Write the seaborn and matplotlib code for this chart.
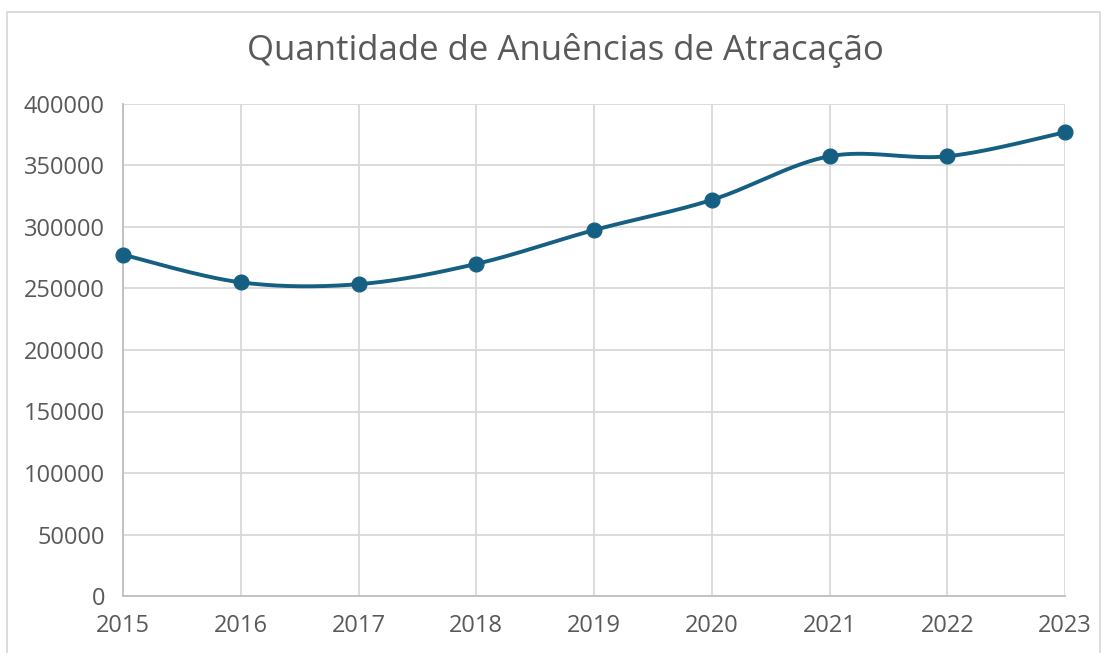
import numpy as np
import pandas as pd
import seaborn as sns
import matplotlib.pyplot as plt
from matplotlib.patches import Rectangle

# values
anos = [2015, 2016, 2017, 2018, 2019, 2020, 2021, 2022, 2023]
anuencias = [277500, 255000, 253500, 270000, 297500, 322000, 357500, 357500, 377000]
y_ticks = [0, 50000, 100000, 150000, 200000, 250000, 300000, 350000, 400000]
titulo = "Quantidade de Anuências de Atracação"

cor = "#156082"
cinza_txt = "#595959"
cinza_grade = "#d9d9d9"


def suavizar(x, y, n=40):
    # Excel-like smoothing: bezier segments with catmull-rom control points
    x = np.asarray(x, float)
    y = np.asarray(y, float)
    px = np.concatenate([[x[0]], x, [x[-1]]])
    py = np.concatenate([[y[0]], y, [y[-1]]])
    xs, ys = [], []
    t = np.linspace(0, 1, n)
    for i in range(1, len(px) - 2):
        p0 = np.array([px[i], py[i]])
        p3 = np.array([px[i + 1], py[i + 1]])
        p1 = p0 + (np.array([px[i + 1], py[i + 1]]) - np.array([px[i - 1], py[i - 1]])) / 6
        p2 = p3 - (np.array([px[i + 2], py[i + 2]]) - np.array([px[i], py[i]])) / 6
        b = ((1 - t) ** 3)[:, None] * p0 + (3 * (1 - t) ** 2 * t)[:, None] * p1 \
            + (3 * (1 - t) * t ** 2)[:, None] * p2 + (t ** 3)[:, None] * p3
        xs.extend(b[:, 0])
        ys.extend(b[:, 1])
    return np.array(xs), np.array(ys)


df = pd.DataFrame({"ano": anos, "valor": anuencias})
sx, sy = suavizar(anos, anuencias)
curva = pd.DataFrame({"ano": sx, "valor": sy})

sns.set_theme(style="whitegrid")
plt.rcParams["font.family"] = ["Open Sans", "DejaVu Sans"]

fig = plt.figure(figsize=(11.09, 6.53), dpi=100)
ax = fig.add_axes([123 / 1109, 57 / 653, 942 / 1109, 492 / 653])

sns.lineplot(data=curva, x="ano", y="valor", ax=ax, color=cor, linewidth=2.8,
             sort=False, estimator=None)
sns.scatterplot(data=df, x="ano", y="valor", ax=ax, color=cor, s=115,
                edgecolor=cor, zorder=5)
for art in ax.lines + ax.collections:
    art.set_clip_on(False)

ax.set_xlim(anos[0], anos[-1])
ax.set_ylim(0, 400000)
ax.set_xticks(anos)
ax.set_yticks(y_ticks)
ax.set_xticklabels([str(a) for a in anos])
ax.set_yticklabels([str(v) for v in y_ticks])
ax.set_xlabel("")
ax.set_ylabel("")
ax.grid(True, color=cinza_grade, linewidth=1.3)
ax.tick_params(axis="both", colors=cinza_txt, labelsize=17, length=0)
ax.tick_params(axis="x", pad=13)
ax.tick_params(axis="y", pad=13)
for lado in ["top", "right"]:
    ax.spines[lado].set_visible(False)
for lado in ["left", "bottom"]:
    ax.spines[lado].set_color("#bfbfbf")
    ax.spines[lado].set_linewidth(1.3)
ax.set_facecolor("white")

fig.text(565 / 1109, 1 - 50 / 653, titulo, ha="center", va="center",
         fontsize=25, color=cinza_txt)

# chart-area border
fig.patches.append(Rectangle((7 / 1109, -0.05), 1093 / 1109, 1.05 - 12 / 653,
                             transform=fig.transFigure, fill=False,
                             edgecolor=cinza_grade, linewidth=1.3))

fig.savefig("out.png", dpi=100, facecolor="white")
